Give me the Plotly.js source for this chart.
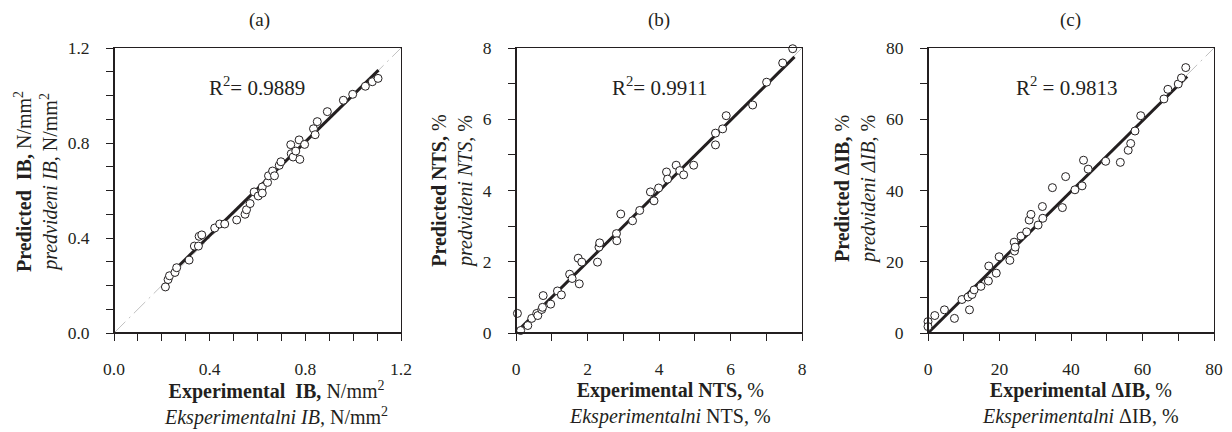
<!DOCTYPE html>
<html>
<head>
<meta charset="utf-8">
<script src="https://cdn.plot.ly/plotly-3.0.1.min.js"></script>
<style>html,body{margin:0;padding:0;background:#fff;}#chart{width:1232px;height:432px;}</style>
</head>
<body>
<div id="chart"></div>
<script>
// ---------- data ----------
// (a) IB, N/mm2
const expA  = [0.215,0.226,0.232,0.255,0.262,0.314,0.336,0.353,0.356,0.367,0.421,0.442,0.463,0.513,0.548,0.554,0.569,0.586,0.603,0.620,0.620,0.642,0.646,0.663,0.671,0.691,0.698,0.739,0.741,0.749,0.760,0.774,0.777,0.797,0.834,0.841,0.850,0.892,0.959,0.998,1.051,1.080,1.104];
const predA = [0.194,0.225,0.241,0.255,0.275,0.307,0.366,0.366,0.407,0.413,0.442,0.459,0.459,0.476,0.500,0.519,0.545,0.594,0.577,0.615,0.589,0.634,0.662,0.682,0.662,0.706,0.721,0.793,0.755,0.741,0.766,0.813,0.731,0.794,0.860,0.835,0.890,0.932,0.980,1.005,1.039,1.058,1.072];
const fitXA = [0.272, 1.106];
const fitYA = [0.284, 1.107];
// (b) NTS, %
const expB  = [-0.03,-0.03,0.04,0.13,0.33,0.44,0.58,0.61,0.72,0.74,0.76,0.97,1.16,1.27,1.50,1.57,1.74,1.77,1.84,2.28,2.32,2.34,2.81,2.82,2.93,3.26,3.46,3.76,3.86,3.99,4.21,4.24,4.48,4.58,4.69,4.97,5.58,5.58,5.78,5.88,6.62,7.01,7.46,7.74];
const predB = [0.29,0.41,0.55,0.07,0.21,0.41,0.55,0.49,0.66,0.72,1.05,0.81,1.18,1.07,1.65,1.53,2.10,1.38,1.99,1.99,2.41,2.53,2.79,2.59,3.34,3.15,3.44,3.96,3.71,4.07,4.52,4.32,4.71,4.56,4.44,4.71,5.61,5.28,5.73,6.10,6.40,7.04,7.58,7.98];
const fitXB = [0.02, 7.79];
const fitYB = [0.03, 7.75];
// (c) delta IB, %
const expC  = [-0.1,0,0,1.9,4.6,7.4,9.5,11.2,11.6,12.3,12.9,14.8,16.9,17.0,19.1,19.9,22.9,24.1,24.2,24.4,26.0,27.6,28.3,28.8,30.8,32.0,32.1,34.8,37.6,38.5,41.1,43.1,43.5,44.8,49.7,53.8,56.0,56.7,57.9,59.5,66.0,67.1,70.0,70.9,72.1];
const predC = [7.0,3.2,1.8,4.9,6.5,4.1,9.4,10.1,6.5,10.8,12.1,13.1,14.6,18.8,16.8,21.4,20.4,25.5,23.0,24.1,27.2,28.4,31.7,33.3,30.3,35.5,32.2,40.8,35.2,43.9,40.2,41.3,48.5,46.0,48.2,47.9,51.3,53.2,56.7,61.0,65.7,68.4,69.9,71.6,74.5];
const fitXC = [0, 72.5];
const fitYC = [0, 72.0];

const axisMax   = [1.2, 8, 80];
const labelStep = [0.4, 2, 20];
const tickStep  = [0.1, 1, 10];
const tickFmt   = ['.1f', 'd', 'd'];
const r2Text    = ['R<sup>2</sup>= 0.9889', 'R<sup>2</sup>= 0.9911', 'R<sup>2</sup> = 0.9813'];
const panelLbl  = ['(a)', '(b)', '(c)'];
const xTitles = [
  '<b>Experimental&nbsp; IB,</b> N/mm<sup>2</sup><br><i>Eksperimentalni IB,</i> N/mm<sup>2</sup>',
  '<b>Experimental NTS,</b> %<br><i>Eksperimentalni</i> NTS, %',
  '<b>Experimental ΔIB,</b> %<br><i>Eksperimentalni</i> ΔIB, %'
];
const yTitles = [
  '<b>Predicted&nbsp; IB,</b> N/mm<sup>2</sup><br><i>predvideni IB,</i> N/mm<sup>2</sup>',
  '<b>Predicted NTS,</b> %<br><i>predvideni NTS,</i> %',
  '<b>Predicted ΔIB,</b> %<br><i>predvideni ΔIB,</i> %'
];

// ---------- drawing ----------
const W = 1232, H = 432;
const INK = '#231f20';
const FONT = '"Liberation Serif", "Times New Roman", serif';
const plotLeft  = [114, 516, 928];
const plotRight = [401, 802, 1214];
const plotTop = 48, plotBottom = 333;
const xTitleX = [276, 670, 1080];
const yTitleX = [36, 452, 855];
const yTitleY = [182, 191, 189];
const panelX  = [259, 659, 1070];
const r2X     = [257, 659, 1066];

const exps = [expA, expB, expC], preds = [predA, predB, predC];
const fitXs = [fitXA, fitXB, fitXC], fitYs = [fitYA, fitYB, fitYC];

const traces = [];
const layout = {
  width: W, height: H,
  margin: {l: 0, r: 0, t: 0, b: 0},
  paper_bgcolor: '#fff', plot_bgcolor: '#fff',
  showlegend: false,
  font: {family: FONT, size: 18, color: INK},
  annotations: [], shapes: []
};

function ann(text, px, py, size, angle) {
  layout.annotations.push({xref: 'paper', yref: 'paper', x: px / W, y: 1 - py / H, xanchor: 'center', yanchor: 'middle',
    showarrow: false, text: text, textangle: angle || 0, font: {family: FONT, size: size, color: INK}});
}

for (let i = 0; i < 3; i++) {
  const sx = i === 0 ? '' : String(i + 1);
  const xa = 'x' + sx, ya = 'y' + sx;
  const common = {
    range: [0, axisMax[i]], tick0: 0, dtick: labelStep[i], tickformat: tickFmt[i],
    ticks: 'outside', ticklen: 7, tickwidth: 1, tickcolor: INK,
    showline: true, linewidth: 1, linecolor: INK, mirror: true,
    showgrid: false, zeroline: false, fixedrange: true,
    tickfont: {family: FONT, size: 17.5, color: INK},
    minor: {dtick: tickStep[i], tick0: 0, ticks: 'outside', ticklen: 7, tickwidth: 1, tickcolor: INK, showgrid: false}
  };
  layout['xaxis' + sx] = Object.assign({}, common, {
    domain: [plotLeft[i] / W, plotRight[i] / W], anchor: ya, ticklabelstandoff: 13
  });
  layout['yaxis' + sx] = Object.assign({}, common, {
    domain: [1 - plotBottom / H, 1 - plotTop / H], anchor: xa, ticklabelstandoff: 13
  });

  // 1:1 reference line
  traces.push({x: [0, axisMax[i]], y: [0, axisMax[i]], xaxis: xa, yaxis: ya, mode: 'lines',
    line: {color: '#b0b0b0', width: 0.8, dash: '16px,5px,2px,5px'}, hoverinfo: 'skip', cliponaxis: false});
  // fitted line
  traces.push({x: fitXs[i], y: fitYs[i], xaxis: xa, yaxis: ya, mode: 'lines',
    line: {color: INK, width: 3}, hoverinfo: 'skip'});
  // points
  traces.push({x: exps[i], y: preds[i], xaxis: xa, yaxis: ya, mode: 'markers', cliponaxis: false,
    marker: {symbol: 'circle', size: 8, color: '#fff', line: {color: INK, width: 1}}});

  // thick left & bottom axis lines
  layout.shapes.push({type: 'line', xref: xa + ' domain', yref: ya + ' domain', x0: 0, x1: 0, y0: 0, y1: 1, line: {color: INK, width: 2}});
  layout.shapes.push({type: 'line', xref: xa + ' domain', yref: ya + ' domain', x0: 0, x1: 1, y0: 0, y1: 0, line: {color: INK, width: 2}});

  ann(r2Text[i], r2X[i], 86, 21);
  ann(panelLbl[i], panelX[i], 20, 19);
  ann(xTitles[i], xTitleX[i], 403, 20);
  ann(yTitles[i], yTitleX[i], yTitleY[i], 20, -90);
}

Plotly.newPlot('chart', traces, layout, {staticPlot: true, displayModeBar: false});
</script>
</body>
</html>
